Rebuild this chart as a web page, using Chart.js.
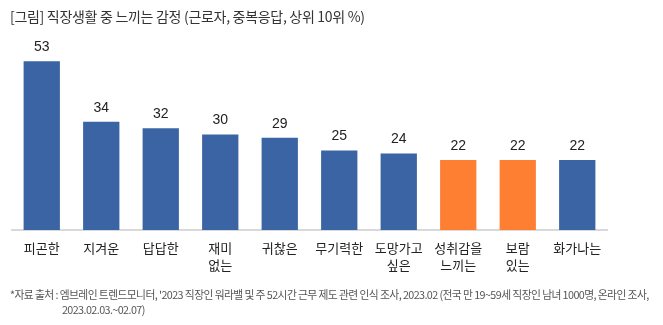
<!DOCTYPE html>
<html>
<head>
<meta charset="utf-8">
<script src="https://cdn.jsdelivr.net/npm/chart.js@4"></script>
<style>
  body { margin: 0; background: #fff; }
  #wrap { position: relative; width: 663px; height: 325px; overflow: hidden; }
  #title { position: absolute; left: 10px; top: 6px; font: 14px "Noto Sans CJK KR", sans-serif; color: #333; white-space: nowrap; letter-spacing: -0.3px; }
  #note { position: absolute; left: 10px; top: 287px; font: 11px "Noto Sans CJK KR", sans-serif; color: #555; line-height: 15px; white-space: nowrap; letter-spacing: -0.6px; transform: scaleX(0.98); transform-origin: left top; }
  #note .l2 { padding-left: 53px; }
  canvas { position: absolute; left: 0; top: 0; }
</style>
</head>
<body>
<div id="wrap">
  <canvas id="myChart" width="663" height="325"></canvas>
  <div id="title">[그림] 직장생활 중 느끼는 감정 (근로자, 중복응답, 상위 10위 %)</div>
  <div id="note">*자료 출처 : 엠브레인 트렌드모니터, '2023 직장인 워라밸 및 주 52시간 근무 제도 관련 인식 조사, 2023.02 (전국 만 19~59세 직장인 남녀 1000명, 온라인 조사,<br><span class="l2">2023.02.03.~02.07)</span></div>
</div>
<script>
const labels = ['피곤한', '지겨운', '답답한', ['재미', '없는'], '귀찮은', '무기력한', ['도망가고', '싶은'], ['성취감을', '느끼는'], ['보람', '있는'], '화가나는'];
const values = [53, 34, 32, 30, 29, 25, 24, 22, 22, 22];
const highlight = [false, false, false, false, false, false, false, true, true, false];

const blue = '#3a64a4';
const orange = '#ff7f32';

// numbers above bars
const valueLabels = {
  id: 'valueLabels',
  afterDatasetsDraw(chart) {
    const ctx = chart.ctx;
    const meta = chart.getDatasetMeta(0);
    ctx.save();
    ctx.font = '14px "Liberation Sans", Arial, sans-serif';
    ctx.fillStyle = '#222';
    ctx.textAlign = 'center';
    ctx.textBaseline = 'middle';
    meta.data.forEach((bar, i) => {
      ctx.fillText(values[i], bar.x, bar.y - 14);
    });
    ctx.restore();
  }
};

new Chart(document.getElementById('myChart'), {
  type: 'bar',
  data: {
    labels: labels,
    datasets: [{
      data: values,
      backgroundColor: highlight.map(h => h ? orange : blue),
      categoryPercentage: 1,
      barPercentage: 0.61
    }]
  },
  options: {
    responsive: false,
    animation: false,
    layout: { padding: { left: 12, right: 56, top: 39, bottom: 25 } },
    plugins: { legend: { display: false }, tooltip: { enabled: false } },
    scales: {
      x: {
        grid: { display: false, drawTicks: false },
        border: { display: true, color: '#d9d9d9', width: 2 },
        ticks: {
          color: '#222',
          padding: 9,
          maxRotation: 0,
          autoSkip: false,
          font: { family: '"Noto Sans CJK KR", sans-serif', size: 13, lineHeight: 1.35 }
        },
        afterFit(scale) { scale.height = 70; }
      },
      y: {
        display: false,
        min: 0,
        max: 60
      }
    }
  },
  plugins: [valueLabels]
});
</script>
</body>
</html>
